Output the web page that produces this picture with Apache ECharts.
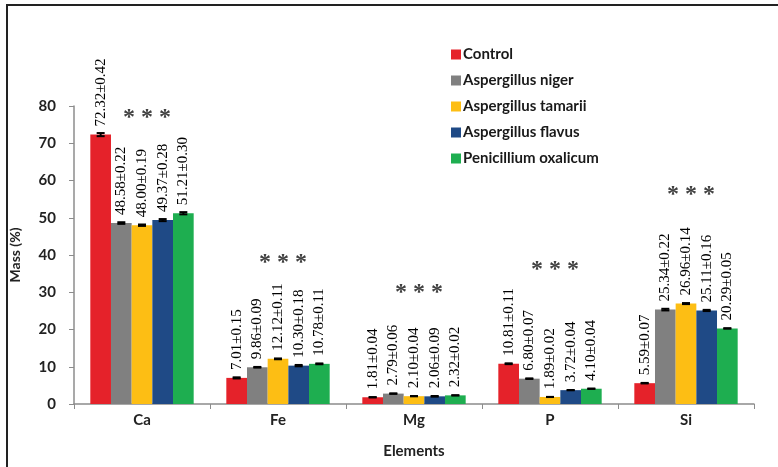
<!DOCTYPE html>
<html>
<head>
<meta charset="utf-8">
<script src="https://cdn.jsdelivr.net/npm/echarts@6/dist/echarts.min.js"></script>
<style>
  html, body { margin: 0; padding: 0; background: #fff; }
  #chart { width: 778px; height: 467px; }
</style>
</head>
<body>
<div id="chart"></div>
<script>
// Elemental composition (mass %) by treatment, mean ± SE
const elements = ['Ca', 'Fe', 'Mg', 'P', 'Si'];
const yTicks = [0, 10, 20, 30, 40, 50, 60, 70, 80];

const control      = [72.32, 7.01, 1.81, 10.81, 5.59];
const controlErr   = [0.42, 0.15, 0.04, 0.11, 0.07];
const niger        = [48.58, 9.86, 2.79, 6.80, 25.34];
const nigerErr     = [0.22, 0.09, 0.06, 0.07, 0.22];
const tamarii      = [48.00, 12.12, 2.10, 1.89, 26.96];
const tamariiErr   = [0.19, 0.11, 0.04, 0.02, 0.14];
const flavus       = [49.37, 10.30, 2.06, 3.72, 25.11];
const flavusErr    = [0.28, 0.18, 0.09, 0.04, 0.16];
const oxalicum     = [51.21, 10.78, 2.32, 4.10, 20.29];
const oxalicumErr  = [0.30, 0.11, 0.02, 0.04, 0.05];

const seriesNames = ['Control', 'Aspergillus niger', 'Aspergillus tamarii', 'Aspergillus flavus', 'Penicillium oxalicum'];
const significance = ['***', '***', '***', '***', '***'];

// where the significance stars sit, in axis units
const starLevel = [78.1, 39.2, 31.1, 37.3, 57.4];

const colors = ['#E5222A', '#808080', '#FDBE14', '#1F4A86', '#1EAE50'];
const means = [control, niger, tamarii, flavus, oxalicum];
const errs = [controlErr, nigerErr, tamariiErr, flavusErr, oxalicumErr];

const CAT_GAP = 0.24;
const SERIF = '"Liberation Serif", "Times New Roman", serif';
const SANS = 'Lato, "Open Sans", sans-serif';

const barSeries = seriesNames.map((name, s) => ({
  name: name,
  type: 'bar',
  barGap: '0%',
  barCategoryGap: (CAT_GAP * 100) + '%',
  itemStyle: { color: colors[s] },
  data: means[s],
  label: {
    show: true,
    position: 'top',
    rotate: 90,
    align: 'left',
    verticalAlign: 'middle',
    distance: 8,
    fontFamily: SERIF,
    fontSize: 15,
    color: '#000',
    formatter: p => means[s][p.dataIndex].toFixed(2) + '±' + errs[s][p.dataIndex].toFixed(2)
  },
  z: 2
}));

// error bars: one record per bar -> [category, series, mean, err]
const errData = [];
for (let s = 0; s < means.length; s++) {
  for (let c = 0; c < elements.length; c++) {
    errData.push([c, s, means[s][c], errs[s][c]]);
  }
}

const errorSeries = {
  type: 'custom',
  name: 'error',
  z: 5,
  silent: true,
  renderItem: function (params, api) {
    const c = api.value(0), s = api.value(1), m = api.value(2), e = api.value(3);
    const band = api.size([1, 0])[0];
    const groupW = band * (1 - CAT_GAP);
    const barW = groupW / means.length;
    const center = api.coord([c, m]);
    const x = center[0] - groupW / 2 + barW * (s + 0.5);
    const hi = api.coord([c, m + e])[1];
    const lo = api.coord([c, m - e])[1];
    const half = 4;
    const style = { stroke: '#000', lineWidth: 2 };
    return {
      type: 'group',
      children: [
        { type: 'line', shape: { x1: x, y1: lo, x2: x, y2: hi }, style: style },
        { type: 'line', shape: { x1: x - half, y1: hi, x2: x + half, y2: hi }, style: style },
        { type: 'line', shape: { x1: x - half, y1: lo, x2: x + half, y2: lo }, style: style }
      ]
    };
  },
  encode: { x: 0, y: 2 },
  data: errData
};

const starSeries = {
  type: 'scatter',
  name: 'significance',
  symbolSize: 0,
  silent: true,
  z: 6,
  data: elements.map((el, i) => [el, starLevel[i]]),
  label: {
    show: true,
    position: 'inside',
    offset: [5, 5],
    formatter: p => significance[p.dataIndex].split('').join(' '),
    fontFamily: SERIF,
    fontWeight: 'bold',
    fontSize: 24,
    color: '#111'
  }
};

const chart = echarts.init(document.getElementById('chart'), null, { renderer: 'canvas' });
chart.setOption({
  backgroundColor: '#fff',
  animation: false,
  color: colors,
  grid: { left: 71, right: 24, top: 106, bottom: 63, containLabel: false },
  legend: {
    data: seriesNames,
    orient: 'vertical',
    left: 446,
    top: 42,
    itemWidth: 10,
    itemHeight: 10,
    itemGap: 11,
    icon: 'rect',
    textStyle: { fontFamily: SANS, fontWeight: 'bold', fontSize: 15, color: '#1a1a1a', padding: [0, 0, 0, -3] }
  },
  xAxis: {
    type: 'category',
    data: elements,
    name: 'Elements',
    nameLocation: 'middle',
    nameGap: 40,
    nameTextStyle: { fontFamily: SANS, fontWeight: 'bold', fontSize: 15, color: '#222' },
    axisLine: { lineStyle: { color: '#8c8c8c', width: 1.5 } },
    axisTick: { show: true, length: 5, lineStyle: { color: '#8c8c8c' } },
    axisLabel: { margin: 9, fontFamily: SANS, fontWeight: 'bold', fontSize: 15, color: '#222' }
  },
  yAxis: {
    type: 'value',
    min: yTicks[0],
    max: yTicks[yTicks.length - 1],
    interval: yTicks[1] - yTicks[0],
    name: 'Mass (%)',
    nameLocation: 'middle',
    nameGap: 52,
    nameRotate: 90,
    nameTextStyle: { fontFamily: SANS, fontWeight: 'bold', fontSize: 14, color: '#222' },
    splitLine: { show: false },
    axisLine: { show: true, lineStyle: { color: '#8c8c8c', width: 1.5 } },
    axisTick: { show: true, length: 5, lineStyle: { color: '#8c8c8c' } },
    axisLabel: { margin: 18, fontFamily: SANS, fontWeight: 'bold', fontSize: 15, color: '#222' }
  },
  graphic: [{
    type: 'polyline',
    shape: { points: [[7, 467], [7, 5], [778, 5]] },
    style: { stroke: '#222', lineWidth: 2, fill: null },
    silent: true
  }],
  series: barSeries.concat([errorSeries, starSeries])
});
</script>
</body>
</html>
